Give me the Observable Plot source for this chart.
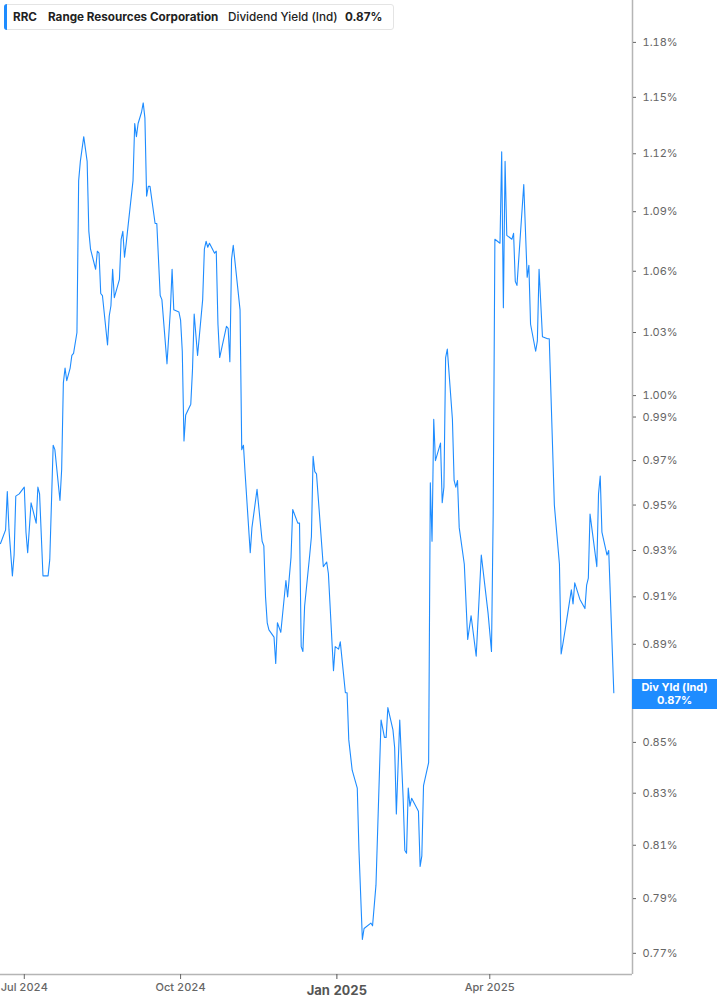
<!DOCTYPE html>
<html>
<head>
<meta charset="utf-8">
<script src="https://cdn.jsdelivr.net/npm/d3@7"></script>
<script src="https://cdn.jsdelivr.net/npm/@observablehq/plot@0.6"></script>
<style>
  html, body { margin: 0; padding: 0; background: #fff; }
  body { width: 717px; height: 1005px; position: relative; overflow: hidden; font-family: Inter, "Noto Sans", sans-serif; }
  #chart { position: absolute; left: 0; top: 0; }
  #header {
    position: absolute; left: 4px; top: 4px; width: 390px; height: 26px;
    border: 1px solid #e4e4e4; border-radius: 3px; background: #fff; box-sizing: border-box;
    font-size: 11.7px; color: #222; font-weight: 600; white-space: nowrap;
  }
  #header .bar { position: absolute; left: -1px; top: -1px; bottom: -1px; width: 3px; background: #1e8cff; border-radius: 3px 0 0 3px; }
  #header span { position: absolute; top: 5px; line-height: 15px; }
  #tag {
    position: absolute; left: 632px; top: 679px; width: 85px; height: 30px; background: #1e8cff;
    color: #fff; font-size: 11px; font-weight: 700; text-align: center; line-height: 13px; padding-top: 2px; box-sizing: border-box;
  }
</style>
</head>
<body>
<div id="chart"></div>
<div id="header">
  <div class="bar"></div>
  <span style="left:8px;font-weight:700">RRC</span>
  <span style="left:43px;font-weight:700">Range Resources Corporation</span>
  <span style="left:223px;font-weight:500">Dividend Yield (Ind)</span>
  <span style="left:340px;font-weight:700">0.87%</span>
</div>
<div id="tag">Div Yld (Ind)<br>0.87%</div>
<script>
// Dividend yield (%) readings
const dates = [
  "2024-06-17","2024-06-18","2024-06-20","2024-06-21","2024-06-22","2024-06-24","2024-06-25","2024-06-26","2024-06-28",
  "2024-07-01","2024-07-02","2024-07-03","2024-07-05","2024-07-08","2024-07-09","2024-07-10","2024-07-12","2024-07-15",
  "2024-07-16","2024-07-18","2024-07-19","2024-07-22","2024-07-23","2024-07-24","2024-07-25","2024-07-26","2024-07-28",
  "2024-07-29","2024-07-30","2024-08-01","2024-08-02","2024-08-03","2024-08-05","2024-08-07","2024-08-08","2024-08-09",
  "2024-08-12","2024-08-13","2024-08-14","2024-08-15","2024-08-16","2024-08-19","2024-08-20","2024-08-21","2024-08-22",
  "2024-08-23","2024-08-26","2024-08-27","2024-08-28","2024-08-29","2024-08-30","2024-08-31","2024-09-03","2024-09-04",
  "2024-09-05","2024-09-06","2024-09-08","2024-09-09","2024-09-10","2024-09-11","2024-09-12","2024-09-13","2024-09-16",
  "2024-09-17","2024-09-19","2024-09-20","2024-09-23","2024-09-25","2024-09-26","2024-09-27","2024-09-30","2024-10-01",
  "2024-10-02","2024-10-03","2024-10-04","2024-10-07","2024-10-08","2024-10-09","2024-10-11","2024-10-14","2024-10-15",
  "2024-10-16","2024-10-17","2024-10-18","2024-10-21","2024-10-22","2024-10-23","2024-10-24","2024-10-28","2024-10-29",
  "2024-10-30","2024-10-31","2024-11-01","2024-11-05","2024-11-06","2024-11-07","2024-11-08","2024-11-11","2024-11-12",
  "2024-11-15","2024-11-18","2024-11-19","2024-11-20","2024-11-21","2024-11-22","2024-11-25","2024-11-26","2024-11-27",
  "2024-11-29","2024-12-02","2024-12-03","2024-12-05","2024-12-06","2024-12-09","2024-12-10","2024-12-11","2024-12-12",
  "2024-12-13","2024-12-16","2024-12-17","2024-12-18","2024-12-19","2024-12-20","2024-12-24","2024-12-26","2024-12-27",
  "2024-12-30","2024-12-31","2025-01-02","2025-01-03","2025-01-06","2025-01-07","2025-01-08","2025-01-10","2025-01-13",
  "2025-01-14","2025-01-16","2025-01-17","2025-01-21","2025-01-22","2025-01-24","2025-01-27","2025-01-29","2025-01-30",
  "2025-01-31","2025-02-03","2025-02-04","2025-02-05","2025-02-07","2025-02-09","2025-02-10","2025-02-11","2025-02-12",
  "2025-02-13","2025-02-14","2025-02-18","2025-02-19","2025-02-20","2025-02-21","2025-02-24","2025-02-25","2025-02-26",
  "2025-02-27","2025-02-28","2025-03-03","2025-03-04","2025-03-05","2025-03-06","2025-03-07","2025-03-10","2025-03-11",
  "2025-03-12","2025-03-13","2025-03-14","2025-03-17","2025-03-19","2025-03-21","2025-03-24","2025-03-27","2025-03-31",
  "2025-04-02","2025-04-03","2025-04-04","2025-04-07","2025-04-08","2025-04-09","2025-04-10","2025-04-11","2025-04-14",
  "2025-04-15","2025-04-16","2025-04-17","2025-04-21","2025-04-23","2025-04-24","2025-04-25","2025-04-28","2025-04-29",
  "2025-04-30","2025-05-02","2025-05-05","2025-05-06","2025-05-09","2025-05-12","2025-05-13","2025-05-14","2025-05-16",
  "2025-05-19","2025-05-20","2025-05-21","2025-05-24","2025-05-27","2025-05-28","2025-05-29","2025-05-30","2025-06-03",
  "2025-06-04","2025-06-05","2025-06-06","2025-06-09","2025-06-10","2025-06-13"
];
const values = [
  0.933,0.935,0.939,0.956,0.939,0.919,0.928,0.954,0.955,
  0.958,0.938,0.929,0.951,0.942,0.958,0.955,0.919,0.919,
  0.926,0.977,0.975,0.952,0.966,1.006,1.013,1.007,1.013,
  1.019,1.020,1.030,1.106,1.116,1.129,1.116,1.080,1.071,
  1.061,1.070,1.069,1.049,1.048,1.024,1.038,1.043,1.061,
  1.047,1.056,1.076,1.080,1.067,1.074,1.082,1.106,1.136,
  1.129,1.136,1.142,1.147,1.139,1.098,1.103,1.103,1.084,
  1.084,1.048,1.046,1.015,1.041,1.061,1.041,1.040,1.036,
  1.021,0.979,0.991,0.996,1.012,1.039,1.019,1.046,1.071,
  1.075,1.072,1.074,1.069,1.070,1.034,1.018,1.033,1.032,
  1.016,1.066,1.073,1.041,0.975,0.977,0.964,0.929,0.940,
  0.957,0.934,0.932,0.910,0.899,0.896,0.893,0.882,0.899,
  0.895,0.917,0.910,0.927,0.948,0.942,0.942,0.889,0.887,
  0.906,0.928,0.936,0.972,0.965,0.964,0.923,0.925,0.920,
  0.879,0.889,0.888,0.891,0.870,0.870,0.851,0.839,0.832,
  0.808,0.775,0.779,0.781,0.780,0.795,0.859,0.852,0.852,
  0.864,0.855,0.848,0.822,0.859,0.828,0.808,0.807,0.832,
  0.825,0.828,0.823,0.802,0.806,0.833,0.842,0.960,0.934,
  0.989,0.970,0.978,0.951,0.958,1.018,1.022,0.989,0.961,
  0.958,0.961,0.940,0.924,0.892,0.902,0.885,0.928,0.903,
  0.887,0.946,1.076,1.074,1.121,1.042,1.116,1.078,1.076,
  1.079,1.055,1.053,1.104,1.057,1.063,1.034,1.021,1.026,
  1.061,1.028,1.027,1.027,0.950,0.924,0.886,0.890,0.899,
  0.913,0.907,0.916,0.909,0.905,0.915,0.918,0.946,0.923,
  0.955,0.963,0.938,0.928,0.930,0.870
];
// 0.87% tick sits under the last-value tag, so it is not labelled
const yTicks = [0.77,0.79,0.81,0.83,0.85,0.89,0.91,0.93,0.95,0.97,0.99,1.00,1.03,1.06,1.09,1.12,1.15,1.18];
const xTickDates = ["2024-07-01","2024-10-01","2025-04-01"];
const xTickLabels = ["Jul 2024","Oct 2024","Apr 2025"];
const xYearDates = ["2025-01-01"];
const xYearLabels = ["Jan 2025"];

const data = dates.map((d, i) => ({date: new Date(d), value: values[i]}));
const xDomain = [new Date("2024-06-17"), new Date("2025-06-24")];
const yDomain = [0.7624, 1.2034];
const xTicks = xTickDates.map(d => new Date(d));
const yearTicks = xYearDates.map(d => new Date(d));
const labelOf = (dList, lList) => v => lList[dList.findIndex(d => +new Date(d) === +v)];

const chart = Plot.plot({
  width: 717,
  height: 1005,
  marginTop: 0,
  marginBottom: 31,
  marginLeft: 0,
  marginRight: 85,
  style: {fontFamily: "Inter, 'Noto Sans', sans-serif", background: "#fff"},
  x: {type: "utc", domain: xDomain},
  y: {type: "log", domain: yDomain},
  marks: [
    Plot.line(data, {x: "date", y: "value", stroke: "#1e8cff", strokeWidth: 1.1}),
    Plot.ruleY([yDomain[0]], {stroke: "#b5b5b5", strokeWidth: 1.5}),
    Plot.ruleX([xDomain[1]], {stroke: "#b5b5b5", strokeWidth: 1.5}),
    Plot.axisY({anchor: "right", ticks: yTicks, tickFormat: d => d.toFixed(2) + "%", tickSize: 3, tickPadding: 7, fontSize: 11, color: "#666", label: null}),
    Plot.axisX({anchor: "bottom", ticks: xTicks, tickFormat: labelOf(xTickDates, xTickLabels), tickSize: 5, tickPadding: 4, fontSize: 11, color: "#666", fontWeight: 500, label: null}),
    Plot.axisX({anchor: "bottom", ticks: yearTicks, tickFormat: labelOf(xYearDates, xYearLabels), tickSize: 5, tickPadding: 6, fontSize: 13, color: "#555", fontWeight: 700, label: null})
  ]
});
document.getElementById("chart").appendChild(chart);
</script>
</body>
</html>
